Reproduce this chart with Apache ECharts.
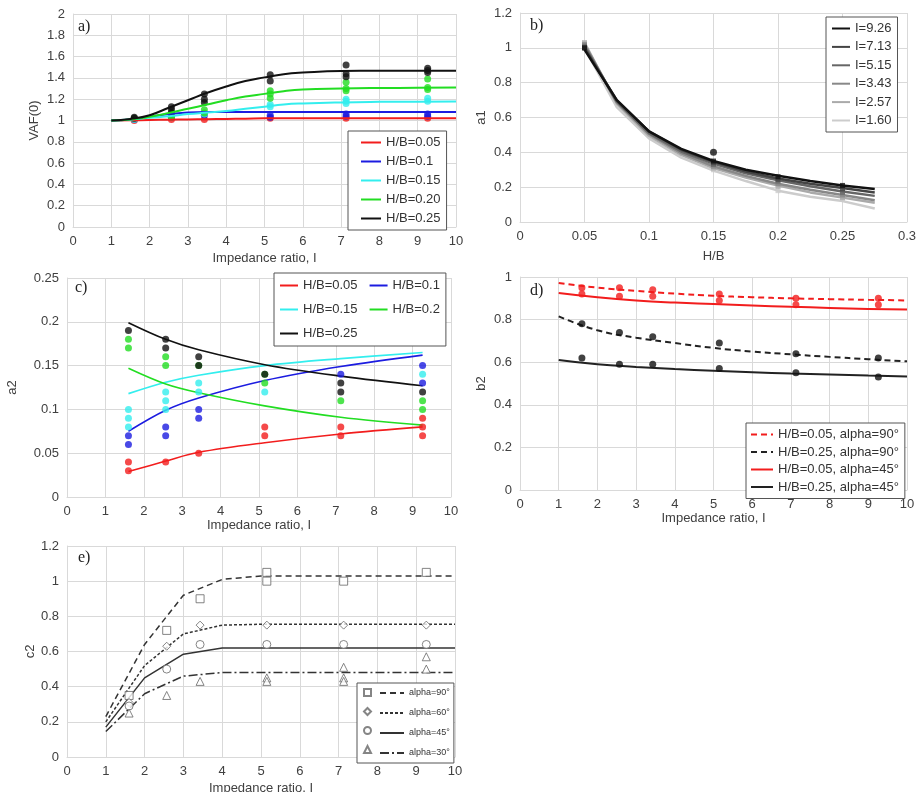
<!DOCTYPE html>
<html>
<head>
<meta charset="utf-8">
<title>chart</title>
<style>html,body{margin:0;background:#fff}</style>
</head>
<body>
<div id="main" style="width:923px;height:792px;"></div>
<script src="https://cdn.jsdelivr.net/npm/echarts@6/dist/echarts.min.js"></script>
<script>
// ---------- panel a : VAF(0) ----------
var aX = [1, 1.5, 2, 2.5, 3, 3.5, 4, 4.5, 5, 5.5, 6, 7, 8, 9, 10];
var hbNames = ['H/B=0.05', 'H/B=0.1', 'H/B=0.15', 'H/B=0.20', 'H/B=0.25'];
var aLines = [
    [1, 1.002, 1.005, 1.008, 1.01, 1.012, 1.015, 1.017, 1.02, 1.02, 1.02, 1.02, 1.02, 1.02, 1.02],
    [1, 1.01, 1.035, 1.06, 1.075, 1.08, 1.08, 1.08, 1.08, 1.08, 1.08, 1.08, 1.08, 1.08, 1.08],
    [1, 1.01, 1.025, 1.04, 1.06, 1.075, 1.09, 1.11, 1.13, 1.15, 1.16, 1.17, 1.175, 1.177, 1.178],
    [1, 1.01, 1.035, 1.07, 1.11, 1.15, 1.19, 1.225, 1.25, 1.275, 1.29, 1.30, 1.305, 1.307, 1.31],
    [1, 1.015, 1.05, 1.12, 1.19, 1.26, 1.32, 1.37, 1.405, 1.435, 1.45, 1.465, 1.467, 1.467, 1.467]
];
var aPts = [
    [[1.6, 1.0], [2.57, 1.01], [3.43, 1.01], [5.15, 1.02], [7.13, 1.02], [9.26, 1.02]],
    [[1.6, 1.01], [2.57, 1.03], [3.43, 1.05], [5.15, 1.05], [5.15, 1.03], [7.13, 1.06], [7.13, 1.04], [9.26, 1.06], [9.26, 1.04]],
    [[1.6, 1.01], [2.57, 1.04], [3.43, 1.06], [5.15, 1.13], [5.15, 1.15], [7.13, 1.2], [7.13, 1.18], [7.13, 1.16], [9.26, 1.21], [9.26, 1.18]],
    [[1.6, 1.02], [2.57, 1.05], [2.57, 1.03], [3.43, 1.1], [3.43, 1.07], [5.15, 1.28], [5.15, 1.25], [5.15, 1.21], [7.13, 1.36], [7.13, 1.3], [7.13, 1.28], [9.26, 1.39], [9.26, 1.31], [9.26, 1.29]],
    [[1.6, 1.03], [1.6, 1.02], [2.57, 1.13], [2.57, 1.1], [2.57, 1.07], [3.43, 1.25], [3.43, 1.2], [3.43, 1.17], [5.15, 1.43], [5.15, 1.37], [7.13, 1.52], [7.13, 1.44], [7.13, 1.41], [9.26, 1.49], [9.26, 1.47], [9.26, 1.45]]
];
var hbColors = ['#f21d1d', '#1c1ce0', '#33eeee', '#22dd22', '#111111'];

// ---------- panel b : a1 ----------
var bX = [0.05, 0.075, 0.1, 0.125, 0.15, 0.175, 0.2, 0.225, 0.25, 0.275];
var bNames = ['I=9.26', 'I=7.13', 'I=5.15', 'I=3.43', 'I=2.57', 'I=1.60'];
var bLines = [
    [0.99, 0.70, 0.52, 0.42, 0.35, 0.30, 0.265, 0.235, 0.21, 0.19],
    [1.00, 0.70, 0.52, 0.415, 0.345, 0.29, 0.25, 0.22, 0.195, 0.17],
    [1.01, 0.69, 0.51, 0.405, 0.335, 0.28, 0.24, 0.205, 0.175, 0.15],
    [1.02, 0.69, 0.505, 0.395, 0.32, 0.265, 0.22, 0.185, 0.155, 0.125],
    [1.03, 0.68, 0.495, 0.385, 0.31, 0.255, 0.21, 0.17, 0.14, 0.11],
    [1.00, 0.66, 0.48, 0.37, 0.295, 0.235, 0.18, 0.145, 0.12, 0.078]
];
var bMarkX = [0.05, 0.15, 0.2, 0.25];
var bMarks = [
    [1.0, 0.35, 0.26, 0.21],
    [1.0, 0.34, 0.245, 0.19],
    [1.01, 0.33, 0.235, 0.17],
    [1.02, 0.32, 0.22, 0.155],
    [1.03, 0.31, 0.205, 0.14],
    [1.0, 0.30, 0.18, 0.13]
];
var bDot = [[0.15, 0.40]];
var bColors = ['#111111', '#444444', '#666666', '#888888', '#aaaaaa', '#cccccc'];

// ---------- panel c : a2 ----------
var cX = [1.6, 2.57, 3.43, 5.15, 7.13, 9.26];
var cNames = ['H/B=0.05', 'H/B=0.1', 'H/B=0.15', 'H/B=0.2', 'H/B=0.25'];
var cLines = [
    [0.029, 0.041, 0.051, 0.062, 0.072, 0.080],
    [0.075, 0.099, 0.113, 0.133, 0.149, 0.162],
    [0.118, 0.131, 0.139, 0.150, 0.158, 0.165],
    [0.147, 0.129, 0.119, 0.104, 0.091, 0.082],
    [0.199, 0.180, 0.168, 0.151, 0.138, 0.127]
];
var cPts = [
    [[1.6, 0.04], [1.6, 0.03], [2.57, 0.04], [3.43, 0.05], [5.15, 0.08], [5.15, 0.07], [7.13, 0.08], [7.13, 0.07], [9.26, 0.09], [9.26, 0.08], [9.26, 0.07]],
    [[1.6, 0.07], [1.6, 0.06], [2.57, 0.08], [2.57, 0.07], [3.43, 0.10], [3.43, 0.09], [7.13, 0.14], [9.26, 0.15], [9.26, 0.13]],
    [[1.6, 0.10], [1.6, 0.09], [1.6, 0.08], [2.57, 0.12], [2.57, 0.11], [2.57, 0.10], [3.43, 0.13], [3.43, 0.12], [5.15, 0.12], [9.26, 0.14]],
    [[1.6, 0.18], [1.6, 0.17], [2.57, 0.16], [2.57, 0.15], [3.43, 0.15], [5.15, 0.14], [5.15, 0.13], [7.13, 0.11], [9.26, 0.11], [9.26, 0.10]],
    [[1.6, 0.19], [2.57, 0.18], [2.57, 0.17], [3.43, 0.16], [3.43, 0.15], [5.15, 0.14], [7.13, 0.13], [7.13, 0.12], [9.26, 0.12]]
];

// ---------- panel d : b2 ----------
var dX = [1, 2, 3, 4, 5, 6, 7, 8, 9, 10];
var dNames = ['H/B=0.05, alpha=90°', 'H/B=0.25, alpha=90°', 'H/B=0.05, alpha=45°', 'H/B=0.25, alpha=45°'];
var dLines = [
    [0.972, 0.95, 0.935, 0.922, 0.912, 0.905, 0.90, 0.896, 0.893, 0.89],
    [0.815, 0.75, 0.715, 0.69, 0.667, 0.65, 0.637, 0.625, 0.614, 0.604],
    [0.925, 0.905, 0.89, 0.88, 0.873, 0.866, 0.86, 0.855, 0.85, 0.847],
    [0.61, 0.59, 0.578, 0.568, 0.56, 0.553, 0.547, 0.542, 0.537, 0.533]
];
var dRedPts = [[1.6, 0.95], [1.6, 0.92], [2.57, 0.95], [2.57, 0.91], [3.43, 0.94], [3.43, 0.91], [5.15, 0.92], [5.15, 0.89], [7.13, 0.90], [7.13, 0.87], [9.26, 0.90], [9.26, 0.87]];
var dBlackPts = [[1.6, 0.78], [1.6, 0.62], [2.57, 0.74], [2.57, 0.59], [3.43, 0.72], [3.43, 0.59], [5.15, 0.69], [5.15, 0.57], [7.13, 0.64], [7.13, 0.55], [9.26, 0.62], [9.26, 0.53]];

// ---------- panel e : c2 ----------
var eX = [1, 2, 3, 4, 5, 6, 7, 8, 9, 10];
var eNames = ['alpha=90°', 'alpha=60°', 'alpha=45°', 'alpha=30°'];
var eLines = [
    [0.23, 0.64, 0.92, 1.01, 1.03, 1.03, 1.03, 1.03, 1.03, 1.03],
    [0.20, 0.52, 0.70, 0.75, 0.755, 0.755, 0.755, 0.755, 0.755, 0.755],
    [0.17, 0.45, 0.585, 0.62, 0.62, 0.62, 0.62, 0.62, 0.62, 0.62],
    [0.145, 0.36, 0.46, 0.48, 0.48, 0.48, 0.48, 0.48, 0.48, 0.48]
];
var ePts = [
    [[1.6, 0.35], [2.57, 0.72], [3.43, 0.90], [5.15, 1.05], [5.15, 1.0], [7.13, 1.0], [9.26, 1.05]],
    [[1.6, 0.31], [2.57, 0.63], [3.43, 0.75], [5.15, 0.75], [7.13, 0.75], [9.26, 0.75]],
    [[1.6, 0.29], [2.57, 0.50], [3.43, 0.64], [5.15, 0.64], [7.13, 0.64], [9.26, 0.64]],
    [[1.6, 0.25], [2.57, 0.35], [3.43, 0.43], [5.15, 0.45], [5.15, 0.43], [7.13, 0.51], [7.13, 0.45], [7.13, 0.43], [9.26, 0.57], [9.26, 0.50]]
];
var eSymbols = ['rect', 'diamond', 'circle', 'triangle'];
var eDash = [[6, 4], [3, 2], 'solid', [9, 3, 2, 3]];

// ---------- helpers ----------
var FONT = 'Liberation Sans, Arial, sans-serif';
var GRIDC = '#d9d9d9';
var TXT = '#404040';

function pairs(xs, ys) {
    return xs.map(function (x, i) { return [x, ys[i]]; });
}
function fmt(v) { return String(+v.toFixed(3)); }

function axis(gi, min, max, interval, name, gap) {
    return {
        type: 'value', gridIndex: gi, min: min, max: max, interval: interval,
        name: name, nameLocation: 'middle', nameGap: gap,
        nameTextStyle: { fontFamily: FONT, fontSize: 13, color: TXT },
        axisLine: { show: true, onZero: false, lineStyle: { color: GRIDC } },
        axisTick: { show: false },
        axisLabel: { fontFamily: FONT, fontSize: 13, color: TXT, margin: 8, formatter: fmt },
        splitLine: { show: true, lineStyle: { color: GRIDC, width: 1 } }
    };
}

function grid(l, t, w, h) {
    return { left: l, top: t, width: w, height: h, containLabel: false, outerBoundsMode: 'none' };
}

var series = [];

// a
aLines.forEach(function (ys, k) {
    series.push({ name: hbNames[k], type: 'line', xAxisIndex: 0, yAxisIndex: 0, data: pairs(aX, ys),
        smooth: true, symbol: 'none', lineStyle: { color: hbColors[k], width: 2 }, itemStyle: { color: hbColors[k] }, z: 3 + k });
    series.push({ name: 'a' + k, type: 'scatter', xAxisIndex: 0, yAxisIndex: 0, data: aPts[k],
        symbolSize: 7, itemStyle: { color: hbColors[k] }, z: 2 });
});

// b  (lightest drawn first)
for (var k = bLines.length - 1; k >= 0; k--) {
    series.push({ name: bNames[k], type: 'line', xAxisIndex: 1, yAxisIndex: 1, data: pairs(bX, bLines[k]),
        symbol: 'none', lineStyle: { color: bColors[k], width: 2.5 }, itemStyle: { color: bColors[k] }, z: 10 - k });
    series.push({ name: 'bm' + k, type: 'scatter', xAxisIndex: 1, yAxisIndex: 1, data: pairs(bMarkX, bMarks[k]),
        symbol: 'rect', symbolSize: 5, itemStyle: { color: bColors[k] }, z: 10 - k });
}
series.push({ name: 'bdot', type: 'scatter', xAxisIndex: 1, yAxisIndex: 1, data: bDot,
    symbolSize: 7, itemStyle: { color: '#111' }, z: 20 });

// c
cLines.forEach(function (ys, k) {
    series.push({ name: cNames[k], type: 'line', xAxisIndex: 2, yAxisIndex: 2, data: pairs(cX, ys),
        smooth: 0.35, symbol: 'none', lineStyle: { color: hbColors[k], width: 1.6 }, itemStyle: { color: hbColors[k] }, z: 3 });
    series.push({ name: 'c' + k, type: 'scatter', xAxisIndex: 2, yAxisIndex: 2, data: cPts[k],
        symbolSize: 7, itemStyle: { color: hbColors[k] }, z: 4 });
});

// d
var dColors = ['#f21d1d', '#222222', '#f21d1d', '#222222'];
var dTypes = [[6, 4], [6, 4], 'solid', 'solid'];
dLines.forEach(function (ys, k) {
    series.push({ name: dNames[k], type: 'line', xAxisIndex: 3, yAxisIndex: 3, data: pairs(dX, ys),
        smooth: true, symbol: 'none', lineStyle: { color: dColors[k], width: 2, type: dTypes[k] }, itemStyle: { color: dColors[k] }, z: 3 });
});
series.push({ name: 'dred', type: 'scatter', xAxisIndex: 3, yAxisIndex: 3, data: dRedPts,
    symbolSize: 7, itemStyle: { color: '#f21d1d' }, z: 4 });
series.push({ name: 'dblack', type: 'scatter', xAxisIndex: 3, yAxisIndex: 3, data: dBlackPts,
    symbolSize: 7, itemStyle: { color: '#111' }, z: 4 });

// e
eLines.forEach(function (ys, k) {
    series.push({ name: eNames[k], type: 'line', xAxisIndex: 4, yAxisIndex: 4, data: pairs(eX, ys),
        symbol: 'none', lineStyle: { color: '#333', width: 1.5, type: eDash[k] }, itemStyle: { color: '#333' }, z: 3 });
    series.push({ name: 'mk ' + eNames[k], type: 'scatter', xAxisIndex: 4, yAxisIndex: 4, data: ePts[k],
        symbol: eSymbols[k], symbolSize: 8,
        itemStyle: { color: '#fff', borderColor: '#666', borderWidth: 1 }, z: 4 });
});

function panelTitle(text, l, t) {
    return { text: text, left: l, top: t, padding: 0,
        textStyle: { fontFamily: 'Liberation Serif, Times New Roman, serif', fontSize: 16, fontWeight: 'normal', color: '#222' } };
}

// line-only legend icons: hide the symbol part
var legBase = { orient: 'vertical', borderColor: '#555', borderWidth: 1, backgroundColor: '#fff',
    itemStyle: { opacity: 0 },
    textStyle: { fontFamily: FONT, fontSize: 13, color: '#333' } };
function leg(extra) { return Object.assign({}, legBase, extra); }

var option = {
    backgroundColor: '#fff',
    animation: false,
    title: [
        panelTitle('a)', 78, 19), panelTitle('b)', 530, 18), panelTitle('c)', 75, 280),
        panelTitle('d)', 530, 283), panelTitle('e)', 78, 550)
    ],
    grid: [
        grid(73, 14, 383, 213),
        grid(520, 13, 387, 209),
        grid(67, 278, 384, 219),
        grid(520, 277, 387, 213),
        grid(67, 546, 388, 211)
    ],
    xAxis: [
        axis(0, 0, 10, 1, 'Impedance ratio, I', 25),
        axis(1, 0, 0.3, 0.05, 'H/B', 28),
        axis(2, 0, 10, 1, 'Impedance ratio, I', 21),
        axis(3, 0, 10, 1, 'Impedance ratio, I', 21),
        axis(4, 0, 10, 1, 'Impedance ratio, I', 25)
    ],
    yAxis: [
        axis(0, 0, 2, 0.2, 'VAF(0)', 32),
        axis(1, 0, 1.2, 0.2, 'a1', 32),
        axis(2, 0, 0.25, 0.05, 'a2', 48),
        axis(3, 0, 1, 0.2, 'b2', 32),
        axis(4, 0, 1.2, 0.2, 'c2', 28)
    ],
    legend: [
        leg({ left: 348, top: 131, data: hbNames, itemWidth: 20, itemHeight: 12, itemGap: 6, padding: [5, 6, 5, 12] }),
        leg({ left: 826, top: 17, data: bNames, itemWidth: 18, itemHeight: 12, itemGap: 5.4, padding: [5, 6, 5, 5] }),
        leg({ left: 274, top: 273, orient: 'horizontal', width: 165, data: cNames, itemWidth: 18, itemHeight: 12, itemGap: 11, padding: [6, 6, 6, 5] }),
        leg({ left: 746, top: 423, data: dNames, itemWidth: 22, itemHeight: 10, itemGap: 4.5, padding: [5, 6, 5, 4] }),
        leg({ left: 357, top: 683, data: eNames, itemWidth: 24, itemHeight: 10, itemGap: 10, padding: [5, 4, 5, 22],
            textStyle: { fontFamily: FONT, fontSize: 9, lineHeight: 10, color: '#333' } }),
        { left: 363, top: 688, orient: 'vertical', data: eNames.map(function (n) { return 'mk ' + n; }),
            itemWidth: 7, itemHeight: 7, itemGap: 10, padding: 0, formatter: function () { return ''; },
            textStyle: { fontSize: 9, lineHeight: 7 }, z: 10 }
    ],
    series: series
};

var myChart = echarts.init(document.getElementById('main'));
myChart.setOption(option);
</script>
</body>
</html>
